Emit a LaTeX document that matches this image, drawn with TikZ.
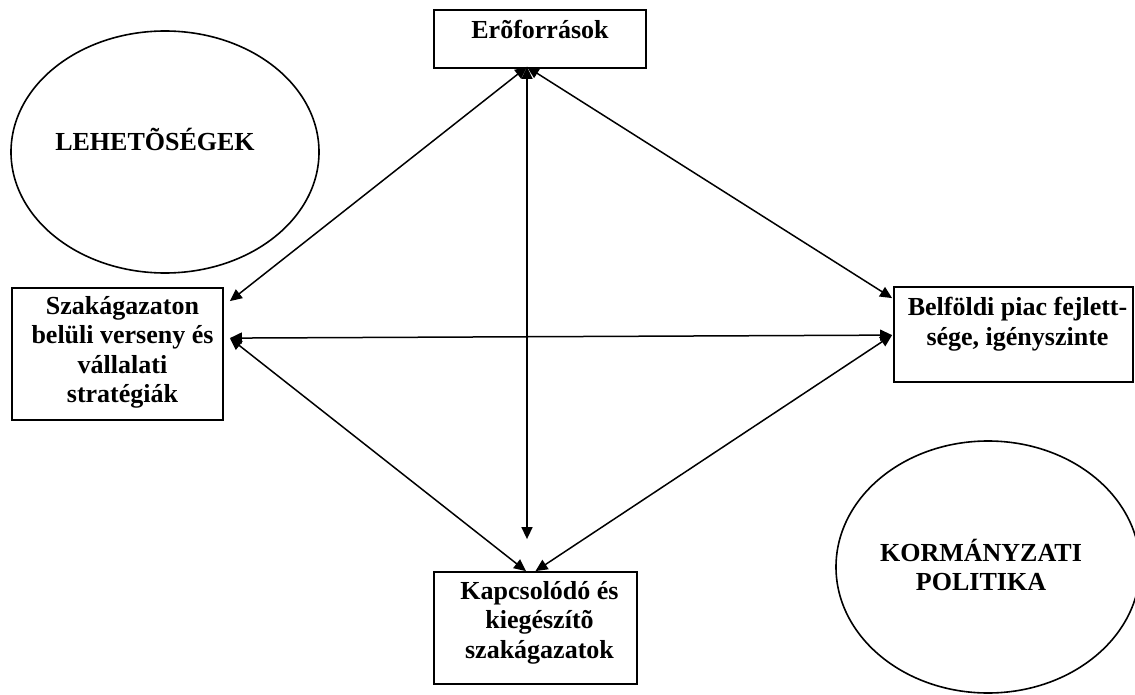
\documentclass[tikz,border=0pt]{standalone}
\usepackage{fontspec}
\setmainfont{Liberation Serif}
\usetikzlibrary{positioning,calc,arrows.meta,shapes.geometric}

\tikzset{
  box/.style={draw, line width=1.8pt, inner sep=0pt},
  boxtext/.style={inner sep=0pt, align=center, font=\fontsize{26}{29.5}\selectfont\bfseries},
  oval/.style={draw, ellipse, line width=1.6pt, inner sep=0pt},
  link/.style={<->, line width=1.5pt, >={Triangle[length=12pt,width=11pt]}}
}

\begin{document}
\begin{tikzpicture}[x=1pt,y=-1pt]
  \useasboundingbox (0,0) rectangle (1135,695);

  % the two ovals
  \node[oval, minimum width=308pt, minimum height=242pt] (lehet) at (165,152) {};
  \node[boxtext] (lehet-t) at (155,139) {LEHETÕSÉGEK};
  \node[oval, minimum width=304pt, minimum height=252pt] (korm) at (988,567) {};
  \node[boxtext] (korm-t) at (981,565) {KORMÁNYZATI\\POLITIKA};

  % the four boxes
  \node[box, minimum width=212pt, minimum height=58pt]  (erof) at (540,39)     {};
  \node[box, minimum width=211pt, minimum height=132pt] (szak) at (117.5,354)  {};
  \node[box, minimum width=239pt, minimum height=95pt]  (bel)  at (1013.5,334.5) {};
  \node[box, minimum width=203pt, minimum height=112pt] (kap)  at (535.5,628)  {};

  \node[boxtext, below=11pt of erof.north] (erof-t) {Erõforrások};
  \node[boxtext, below=9pt of szak.north, xshift=5pt] (szak-t) {Szakágazaton\\belüli verseny és\\vállalati\\stratégiák};
  \node[boxtext, below=11pt of bel.north, xshift=4pt] (bel-t) {Belföldi piac fejlett-\\sége, igényszinte};
  \node[boxtext, below=10pt of kap.north, xshift=4pt] (kap-t) {Kapcsolódó és\\kiegészítõ\\szakágazatok};

  % connectors
  \draw[link] ($(erof.south)+(-13,-2)$) -- ($(szak.north east)+(6,14)$);
  \draw[link] ($(erof.south)+(-13,-2)$) -- ($(bel.north west)+(-1,12)$);
  \draw[link] ($(erof.south)+(-13,-2)$) -- ($(kap.north)+(-8.5,-32)$);
  \draw[link] ($(szak.north east)+(6,51)$) -- ($(bel.north west)+(-1,49)$);
  \draw[link] ($(szak.north east)+(6,51)$) -- ($(kap.north)+(-9.5,0)$);
  \draw[link] ($(bel.north west)+(-1,49)$) -- ($(kap.north)+(0,0)$);
\end{tikzpicture}
\end{document}
